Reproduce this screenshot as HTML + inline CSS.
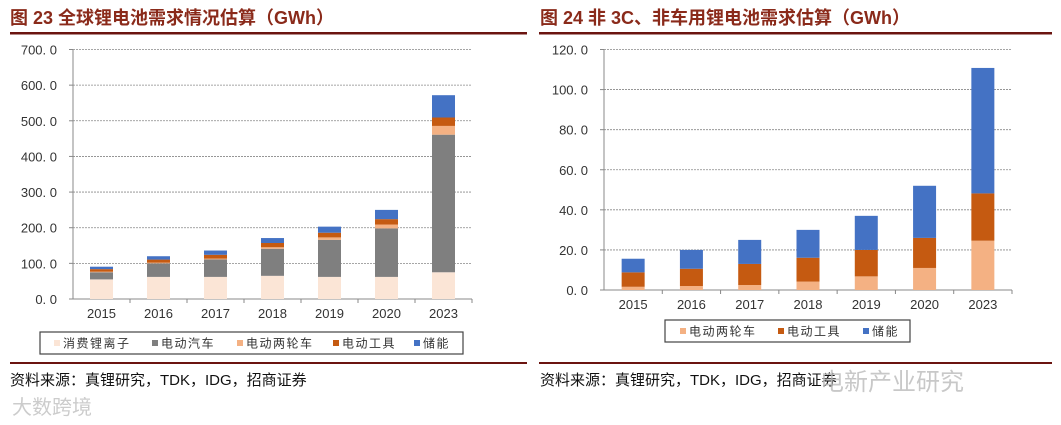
<!DOCTYPE html>
<html><head><meta charset="utf-8"><style>
html,body{margin:0;padding:0;background:#fff;}
svg{display:block;font-family:"Liberation Sans","Noto Sans CJK SC",sans-serif;}
</style></head><body>
<svg id="s" width="1061" height="425" viewBox="0 0 1061 425">
<text x="10" y="24" font-size="18" font-weight="bold" fill="#8a2a1a">图 23  全球锂电池需求情况估算（GWh）</text>
<text x="540" y="24" font-size="18" font-weight="bold" fill="#8a2a1a">图 24  非 3C、非车用锂电池需求估算（GWh）</text>
<rect x="10" y="32" width="517" height="2.5" fill="#6b1410"/>
<rect x="539" y="32" width="513" height="2.5" fill="#6b1410"/>
<rect x="10" y="362" width="517" height="2" fill="#6b1410"/>
<rect x="539" y="362" width="513" height="2" fill="#6b1410"/>
<text x="10" y="385" font-size="15" fill="#111">资料来源：真锂研究，TDK，IDG，招商证券</text>
<text x="540" y="385" font-size="15" fill="#111">资料来源：真锂研究，TDK，IDG，招商证券</text>
<text x="820" y="390" font-size="24" fill="#bbb" opacity="0.8">电新产业研究</text>
<text x="12" y="414" font-size="20" fill="#ccc">大数跨境</text>
<g id="L"></g><g id="R"></g>
</svg>
<script>
const years = ["2015","2016","2017","2018","2019","2020","2023"];
const consumer = [55,62,62,65,62,62,75];
const ev = [20,38,49,76,104,136,386];
const twoWheel = [1.6,2.0,2.5,4.2,6.8,11,24.6];
const tools = [7.2,8.6,10.5,11.9,13.2,15,23.6];
const storage = [6.8,9.4,12,13.9,17,26,62.6];
const leftTicks = [0,100,200,300,400,500,600,700];
const rightTicks = [0,20,40,60,80,100,120];
const NS="http://www.w3.org/2000/svg";
function mk(p,t,a){const e=document.createElementNS(NS,t);for(const k in a)e.setAttribute(k,a[k]);p.appendChild(e);return e;}
function chart(g,cfg){
  const {x0,x1,y0,y1,max,ticks,series,colors,names,bw}=cfg;
  const ys=v=>y0-(v/max)*(y0-y1);
  const cw=(x1-x0)/years.length;
  ticks.forEach(t=>{
    const y=ys(t);
    if(t>0){const l=mk(g,'line',{x1:x0,x2:x1,y1:y,y2:y,stroke:'#888','stroke-dasharray':'2,1','stroke-width':0.8});
    
    }
    const tx=mk(g,'text',{x:x0-16,y:y+5,'text-anchor':'end','font-size':13,fill:'#333'});
    tx.textContent=t.toFixed(1).replace('.','. ');
    
    
    const tk=mk(g,'line',{x1:x0-4,x2:x0,y1:y,y2:y,stroke:'#888'});
    
    
  });
  const ax=mk(g,'line',{x1:x0,x2:x0,y1:y1,y2:y0,stroke:'#888'});
  
  
  const bx=mk(g,'line',{x1:x0,x2:x1,y1:y0,y2:y0,stroke:'#888'});
  
  
  years.forEach((yr,i)=>{
    const cx=x0+cw*(i+0.5);
    const tk=mk(g,'line',{x1:x0+cw*(i+1),x2:x0+cw*(i+1),y1:y0,y2:y0+4,stroke:'#888'});
    
    
    const t=mk(g,'text',{x:cx,y:y0+19,'text-anchor':'middle','font-size':13,fill:'#333'});
    t.textContent=yr;
    
    
    let acc=0;
    series.forEach((s,k)=>{
      const v=s[i];
      const r=mk(g,'rect',{x:cx-bw/2,y:ys(acc+v),width:bw,height:ys(acc)-ys(acc+v),fill:colors[k]});
      
      
      acc+=v;
    });
  });
}
function legend(g,x,y,w,items){
  const b=mk(g,'rect',{x:x,y:y,width:w,height:22,fill:'#fff',stroke:'#444','stroke-width':1.2});
  
  
  items.forEach(([lab,c,sx])=>{
    const r=mk(g,'rect',{x:sx,y:y+8,width:6,height:6,fill:c});
    
    
    const t=mk(g,'text',{x:sx+9,y:y+15.5,'font-size':12,fill:'#333','letter-spacing':'1.5'});
    t.textContent=lab;
    
    
  });
}
const cC='#fbe5d6',cE='#7f7f7f',c2='#f4b183',cT='#c55a11',cS='#4472c4';
const L=document.getElementById('L'),R=document.getElementById('R');
chart(L,{x0:73,x1:472,y0:299,y1:49.5,max:700,ticks:leftTicks,series:[consumer,ev,twoWheel,tools,storage],colors:[cC,cE,c2,cT,cS],names:['consumer','ev','two-wheel','tools','storage'],bw:23});
chart(R,{x0:604,x1:1012,y0:290,y1:49.5,max:120,ticks:rightTicks,series:[twoWheel,tools,storage],colors:[c2,cT,cS],names:['two-wheel','tools','storage'],bw:23});
legend(L,40,332,423,[['消费锂离子',cC,54],['电动汽车',cE,152],['电动两轮车',c2,237],['电动工具',cT,333],['储能',cS,414]]);
legend(R,665,320,245,[['电动两轮车',c2,680],['电动工具',cT,778],['储能',cS,863]]);
</script>
</body></html>
